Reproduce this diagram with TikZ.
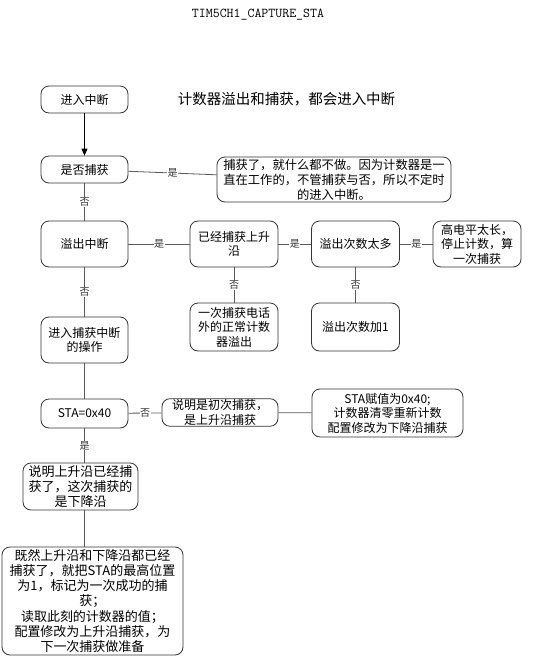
\documentclass[tikz,border=0pt]{standalone}
\usepackage{fontspec}
\setmainfont{Noto Sans CJK SC}
\usetikzlibrary{arrows.meta}
\begin{document}
\begin{tikzpicture}[x=1pt,y=-1pt,
  box/.style={draw=black!80, line width=0.8pt, rounded corners=8pt, align=center, inner sep=1pt,
    font=\fontsize{12}{14.5}\selectfont},
  bigbox/.style={box, font=\fontsize{13}{15.2}\selectfont},
  conn/.style={draw=black!65, line width=0.8pt},
  lab/.style={fill=white, inner sep=0.5pt, font=\fontsize{10}{11}\selectfont, text=black!80}]
\useasboundingbox (0,0) rectangle (559,662);
\node[font=\ttfamily\fontsize{13.5}{15}\selectfont] (title) at (258,15) {TIM5CH1\_CAPTURE\_STA};
\node[font=\fontsize{14.5}{16}\selectfont] (ann) at (286.5,99.5) {计数器溢出和捕获，都会进入中断};

\node[box, minimum width=87pt, minimum height=27pt] (n1) at (84.5,99.5) {进入中断};
\node[box, minimum width=87pt, minimum height=27pt] (n2) at (84.5,169.5) {是否捕获};
\node[box, font=\fontsize{12.3}{15}\selectfont, minimum width=234pt, minimum height=45pt] (note) at (334,179.5)
  {捕获了，就什么都不做。因为计数器是一\\直在工作的，不管捕获与否，所以不定时\\的进入中断。};
\node[box, minimum width=87pt, minimum height=46pt] (n3) at (84.5,244) {溢出中断};
\node[box, minimum width=88pt, minimum height=46pt] (n4) at (234,244) {已经捕获上升\\沿};
\node[box, minimum width=88pt, minimum height=46pt] (n5) at (355.5,244) {溢出次数太多};
\node[box, minimum width=88pt, minimum height=46pt] (n6) at (477,244) {高电平太长，\\停止计数，算\\一次捕获};
\node[box, minimum width=88pt, minimum height=48pt] (n7) at (234,327) {一次捕获电话\\外的正常计数\\器溢出};
\node[box, minimum width=88pt, minimum height=48pt] (n8) at (355.5,327) {溢出次数加1};
\node[box, minimum width=87pt, minimum height=46pt] (n9) at (84.5,340) {进入捕获中断\\的操作};
\node[box, minimum width=87pt, minimum height=29pt] (n10) at (84.5,413.5) {STA=0x40};
\node[box, minimum width=116pt, minimum height=27pt] (n11) at (220,412.5) {说明是初次捕获，\\是上升沿捕获};
\node[box, minimum width=151pt, minimum height=48pt] (n12) at (387.5,413) {STA赋值为0x40;\\计数器清零重新计数\\配置修改为下降沿捕获};
\node[bigbox, minimum width=115pt, minimum height=47pt] (n13) at (80.5,486.5) {说明上升沿已经捕\\获了，这次捕获的\\是下降沿};
\node[bigbox, minimum width=181pt, minimum height=108pt] (n14) at (92.5,601)
  {既然上升沿和下降沿都已经\\捕获了，就把STA的最高位置\\为1，标记为一次成功的捕\\获；\\读取此刻的计数器的值；\\配置修改为上升沿捕获，为\\下一次捕获做准备};

\draw[conn, -{Triangle[length=7pt,width=6pt]}, draw=black] (n1) -- (n2);
\draw[conn] (n2) -- node[lab]{是} (note);
\draw[conn] (n2) -- node[lab]{否} (n3);
\draw[conn] (n3) -- node[lab]{是} (n4);
\draw[conn] (n4) -- node[lab]{是} (n5);
\draw[conn] (n5) -- node[lab]{是} (n6);
\draw[conn] (n4) -- node[lab]{否} (n7);
\draw[conn] (n5) -- node[lab]{否} (n8);
\draw[conn] (n3) -- node[lab]{否} (n9);
\draw[conn] (n9) -- (n10);
\draw[conn] (n10) -- node[lab]{否} (n11);
\draw[conn] (n11) -- (n12);
\draw[conn] (n10.south) -- node[lab]{是} (n10.south |- n13.north);
\draw[conn] (n13.south -| n10.south) -- (n10.south |- n14.north);
\end{tikzpicture}
\end{document}
